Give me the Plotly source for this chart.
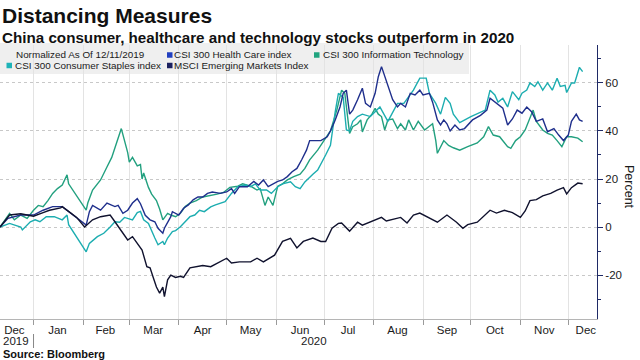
import pandas as pd
import plotly.graph_objects as go

# ---------------- data (percent change, normalized as of 12/11/2019) ----------------
BASE_DATE = "2019-12-11"

# day offsets from 12/11/2019
msci_days = [0, 6, 13, 21, 27, 31, 38, 39, 44, 48, 53, 58, 63, 69, 72, 80, 83, 89, 92, 94,
             96, 98, 100, 102, 103, 105, 107, 110, 113, 115, 119, 123, 127, 132, 136, 142, 145, 150, 157, 161,
             165, 169, 172, 177, 182, 186, 190, 196, 201, 204, 208, 212, 214, 219, 224, 227, 232, 239, 242, 251,
             255, 259, 263, 268, 274, 280, 286, 290, 293, 299, 303, 307, 311, 316, 321, 326, 329, 332, 336, 340,
             345, 349, 353, 355, 358, 362, 365]
msci_vals = [0, 5, 5.5, 4.5, 6, 7, 8, 8.5, 6, 4, 0, 3, 4.3, 5, 2.2, -5.4, -4, -9.6, -16.5, -17,
             -21, -25, -27.5, -25, -29, -22, -20, -21, -20.5, -21, -17, -16.5, -16, -16.5, -15, -13, -15, -14.5, -14.5, -13,
             -14.5, -13, -11.7, -6, -4.7, -8.7, -6, -4.6, -6, -6, -0.5, 1.5, 1.7, -1.7, 2, 0.8, 2, 4, 2.5, 4,
             1.7, 5, 5.8, 4, 2, 5, 2, -0.5, 1, 2, 4.5, 7, 5.8, 7, 6, 4, 6.7, 11, 11.4, 13,
             14, 15.4, 16.4, 13.8, 16.4, 18.3, 18]

health_days = [0, 5, 13, 21, 27, 33, 39, 42, 54, 56, 58, 63, 67, 72, 74, 77, 80, 83, 86, 88,
               91, 94, 97, 99, 102, 103, 107, 108, 112, 115, 118, 121, 124, 127, 130, 133, 138, 142, 145, 147,
               150, 155, 159, 162, 165, 168, 171, 174, 177, 180, 183, 186, 189, 192, 194, 196, 201, 205, 207, 210,
               213, 215, 217, 219, 221, 224, 227, 229, 232, 235, 237, 239, 241, 242, 246, 249, 251, 254, 257, 260,
               263, 265, 269, 271, 274, 276, 278, 280, 282, 285, 288, 291, 296, 301, 305, 307, 311, 315, 318, 321,
               324, 327, 330, 333, 336, 340, 343, 347, 350, 353, 356, 358, 361, 363, 365]
health_vals = [0, 3.6, 5, 5, 7, 8.5, 8.5, 7, 0.8, 6.4, 9, 7, 10, 8.5, 9, 5.7, 7, 10, 11.8, 9.7,
               4.9, 3, 2.2, -0.5, -2.6, -0.5, 4.3, 6.4, 5, 7.8, 9.2, 11.3, 12.5, 12.5, 14, 14.6, 14, 14.6, 16, 14,
               16.8, 16.8, 19, 17.5, 19.6, 16.8, 18, 19, 19.6, 21, 23, 24.4, 28, 32, 36, 36, 36, 37.6, 40, 44.6,
               50, 55.7, 57, 47, 48.7, 53, 57.8, 51.5, 50, 55.7, 62.6, 66.8, 62.6, 61, 53, 50, 51.5, 50, 55.7, 55,
               57, 55, 55.7, 52, 44.6, 42.5, 44.6, 43, 40, 42.5, 40.4, 41, 44.6, 46.5, 48.7, 53.6, 51.5, 49.5, 42.5, 45,
               48.7, 47.4, 50, 48, 44, 45, 39.7, 41, 38.3, 36, 38.3, 44, 47, 44.6, 44]

tech_days = [0, 6, 9, 13, 17, 21, 24, 27, 30, 33, 36, 39, 42, 43, 54, 55, 58, 63, 67, 70,
             73, 76, 78, 80, 81, 83, 86, 88, 89, 90, 93, 95, 98, 100, 102, 105, 107, 110, 113, 116,
             119, 123, 127, 132, 136, 140, 144, 149, 152, 157, 161, 163, 166, 168, 171, 174, 177, 180, 184, 188,
             191, 194, 199, 202, 207, 211, 214, 216, 219, 221, 224, 226, 227, 230, 233, 235, 237, 239, 241, 243,
             246, 249, 251, 254, 256, 259, 262, 266, 271, 273, 274, 278, 281, 284, 288, 293, 299, 303, 306, 309,
             313, 318, 320, 323, 326, 329, 332, 334, 336, 340, 343, 346, 349, 352, 355, 358, 362, 365]
tech_vals = [0, 5.7, 3, 5, 3.6, 7, 9, 8.5, 11, 14, 16, 17.5, 21.7, 18, 7, 10, 15.4, 19.6, 25, 29,
             35, 41, 36, 31, 27, 29, 25.5, 26, 20, 22.5, 16.5, 13.7, 11, 7.5, 3, 5.7, 5, 4.3, 5.7, 8.5,
             10, 11, 12.5, 13, 13.7, 14.4, 16.5, 17, 18, 17, 15.4, 16, 9, 12.5, 9, 17, 18, 19.6, 21, 22,
             24.4, 28, 32, 35, 40, 48.7, 57, 55.7, 39, 41.8, 43, 44.6, 39.6, 44.6, 47, 49.4, 47, 46, 40.4, 44.6,
             45, 41, 43, 40.4, 44.6, 40.4, 44, 40.4, 43, 36, 30.7, 36, 34, 33, 32, 33.5, 35, 37.6, 41.8, 38.3,
             37.6, 33.5, 32.8, 36, 37.6, 40.4, 45.3, 48.7, 44, 40.4, 39, 38.3, 36, 33.5, 37.6, 37.6, 37, 35.5]

staples_days = [0, 6, 13, 14, 19, 22, 25, 29, 34, 39, 42, 43, 54, 56, 61, 65, 69, 72, 75, 78,
                83, 86, 88, 90, 93, 95, 97, 99, 102, 103, 105, 108, 110, 113, 116, 119, 122, 125, 128, 132,
                135, 138, 141, 145, 149, 154, 157, 160, 163, 167, 170, 174, 177, 182, 185, 188, 191, 196, 199, 204,
                207, 210, 212, 215, 217, 219, 221, 224, 227, 232, 238, 243, 249, 253, 259, 263, 267, 269, 273, 276,
                279, 282, 284, 288, 295, 304, 307, 310, 312, 315, 318, 321, 325, 327, 330, 332, 335, 337, 340, 343,
                346, 349, 351, 354, 355, 358, 360, 363, 365]
staples_vals = [0, 1.5, 0, -1.2, 2.2, 3, 2.2, 4.3, 4.3, 3, 5, 1, -10.3, -6.8, -4, -2.6, 0, 2.2, 2, 4,
                3, 6, 6.5, 3, 1.5, -1.9, -4.6, -7.4, -6, -7.4, -4.6, -1.9, -1.5, 0.1, 2.2, 4.3, 5, 7, 6.4, 8.4,
                9.2, 9.9, 10.6, 14, 16.8, 17.5, 16.8, 18, 15.4, 15.4, 14, 16.8, 18, 18.8, 16.8, 16, 18.8, 22, 23.7, 30,
                34, 48, 55.7, 54, 40.4, 40, 44, 46, 47, 46, 50, 44, 51.5, 51.5, 57, 62, 62, 55.7, 51.5, 47,
                54, 51.5, 47, 43.5, 46, 48.7, 57, 55, 52, 53.6, 50, 56.4, 53, 55.7, 57, 60, 58.5, 60.5, 57, 60,
                57, 62, 58.5, 59, 56, 60, 60, 66.5, 64.7]

series_names = ["CSI 300 Information Technology", "CSI 300 Consumer Staples index",
                "CSI 300 Health Care index", "MSCI Emerging Markets Index"]

month_starts = ["2020-01-01", "2020-02-01", "2020-03-01", "2020-04-01", "2020-05-01", "2020-06-01",
                "2020-07-01", "2020-08-01", "2020-09-01", "2020-10-01", "2020-11-01", "2020-12-01"]
month_label_dates = ["2019-12-20", "2020-01-16", "2020-02-15", "2020-03-16", "2020-04-16", "2020-05-16",
                     "2020-06-16", "2020-07-16", "2020-08-16", "2020-09-16", "2020-10-16", "2020-11-16",
                     "2020-12-12"]
month_labels = ["Dec", "Jan", "Feb", "Mar", "Apr", "May", "Jun", "Jul", "Aug", "Sep", "Oct", "Nov", "Dec"]
y_ticks = [-20, 0, 20, 40, 60]
y_tick_labels = ["-20", "0", "20", "40", "60"]
x_range = ["2019-12-11", "2020-12-19"]
y_range = [-38.3, 75.8]

# ---------------- styling ----------------
C_TECH = "#22a07f"
C_STAPLES = "#1cadb0"
C_HEALTH = "#1f2f8c"
C_MSCI = "#10122e"
SQ_TECH = "#21a47f"
SQ_STAPLES = "#1eb3b8"
SQ_HEALTH = "#2240c0"
SQ_MSCI = "#1b2160"
AXIS_NAVY = "#1f2a66"
FONT = "Liberation Sans, Arial, sans-serif"

base = pd.Timestamp(BASE_DATE)


def to_dates(days):
    return [base + pd.Timedelta(days=int(d)) for d in days]


fig = go.Figure()
for days, vals, color, name in [
    (tech_days, tech_vals, C_TECH, series_names[0]),
    (staples_days, staples_vals, C_STAPLES, series_names[1]),
    (health_days, health_vals, C_HEALTH, series_names[2]),
    (msci_days, msci_vals, C_MSCI, series_names[3]),
]:
    fig.add_trace(go.Scatter(x=to_dates(days), y=vals, mode="lines", name=name,
                             line=dict(color=color, width=1.4), showlegend=False,
                             hoverinfo="skip"))

# plot area geometry (pixels)
L, R, T, B = 0, 43, 45, 41
W, H = 640, 360
PW, PH = W - L - R, H - T - B


def px(x):
    return (x - L) / PW


def py(y):
    return (H - B - y) / PH


annotations = []


def text(x, y, s, size, xanchor="left", bold=False, color="#1a1a1a", angle=0):
    annotations.append(dict(
        x=px(x), y=py(y), xref="paper", yref="paper", xanchor=xanchor, yanchor="middle",
        text=f"<b>{s}</b>" if bold else s, showarrow=False, textangle=angle,
        font=dict(family=FONT, size=size, color=color)))


text(0, 15.5, "Distancing Measures", 21, bold=True, color="#111")
text(0, 38, "China consumer, healthcare and technology stocks outperform in 2020", 15.2,
     bold=True, color="#111")
# legend texts
text(14, 55, "Normalized As Of 12/11/2019", 9.9)
text(172.5, 55, series_names[2], 9.9)
text(321, 55, series_names[0], 9.9)
text(13, 65.5, series_names[1], 9.9)
text(172.5, 65.5, series_names[3], 9.9)
# years and source
text(1, 341, "2019", 11.5)
text(314, 341, "2020", 11.5, xanchor="center")
text(1, 354, "Source: Bloomberg", 11, bold=True, color="#111")
text(629, 187, "Percent", 12.5, xanchor="center", angle=90)

shapes = [
    dict(type="rect", xref="paper", yref="paper", x0=px(0), x1=px(469), y0=py(74), y1=py(43),
         fillcolor="#efefef", line=dict(width=0), layer="between"),
    dict(type="line", xref="x", yref="paper", x0=month_starts[0], x1=month_starts[0],
         y0=py(334), y1=py(348), line=dict(color="#888", width=1)),
]


def square(x, y, color):
    shapes.append(dict(type="rect", xref="paper", yref="paper",
                       x0=px(x), x1=px(x + 5.5), y0=py(y + 2.75), y1=py(y - 2.75),
                       fillcolor=color, line=dict(width=0), layer="above"))


square(167, 55, SQ_HEALTH)
square(314, 55, SQ_TECH)
square(6.5, 65.5, SQ_STAPLES)
square(167, 65.5, SQ_MSCI)

fig.update_layout(
    width=W, height=H,
    margin=dict(l=L, r=R, t=T, b=B, pad=0),
    paper_bgcolor="white", plot_bgcolor="white",
    showlegend=False,
    font=dict(family=FONT, color="#1a1a1a"),
    annotations=annotations,
    shapes=shapes,
    xaxis=dict(
        type="date", range=x_range,
        tickmode="array", tickvals=month_label_dates, ticktext=month_labels,
        ticks="", showgrid=False, zeroline=False,
        showline=True, linecolor="#b5b5b5", linewidth=1,
        tickfont=dict(size=11.5, color="#1a1a1a"),
        minor=dict(tickmode="array", tickvals=month_starts, ticks="outside", ticklen=5,
                   tickcolor="#9a9a9a", showgrid=True, gridcolor="#e3e3e3", gridwidth=1),
    ),
    yaxis=dict(
        side="right", range=y_range,
        tickmode="array", tickvals=y_ticks, ticktext=y_tick_labels,
        ticks="outside", ticklen=5, tickcolor=AXIS_NAVY, tickwidth=1,
        showline=True, linecolor=AXIS_NAVY, linewidth=1,
        showgrid=True, gridcolor="#c8c8c8", griddash="dot", gridwidth=1,
        zeroline=False,
        tickfont=dict(size=11.5, color="#1a1a1a"),
        minor=dict(tickmode="linear", tick0=0, dtick=10, ticks="outside", ticklen=3,
                   tickcolor=AXIS_NAVY, showgrid=False),
    ),
)

fig.write_html("out.html", config={"displayModeBar": False, "staticPlot": True},
               post_script="document.body.style.margin='0';document.body.style.overflow='hidden';")
